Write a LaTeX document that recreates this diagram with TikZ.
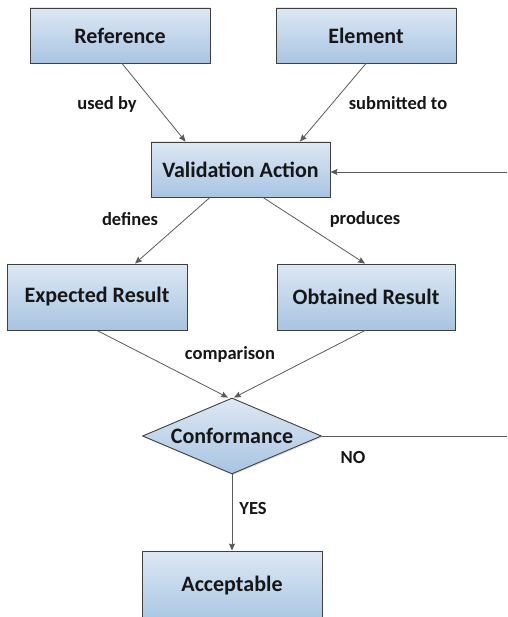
\documentclass[tikz,border=0pt]{standalone}
\usepackage{fontspec}
\setmainfont{Carlito}
\usetikzlibrary{arrows.meta,shapes.geometric,shadows}

\definecolor{boxtop}{HTML}{DDE8F4}
\definecolor{boxbottom}{HTML}{A8C4E2}
\definecolor{boxline}{HTML}{404040}
\definecolor{wire}{HTML}{5A5A5A}
\definecolor{txt}{HTML}{161616}

\tikzset{
  stepbox/.style={rectangle, draw=boxline, line width=0.9pt,
    top color=boxtop, bottom color=boxbottom,
    drop shadow={shadow xshift=1.2pt, shadow yshift=-1.2pt, opacity=0.25},
    minimum width=180pt, minimum height=55pt, inner sep=0pt,
    font=\fontsize{22}{26}\selectfont\bfseries, text=txt},
  decision/.style={diamond, draw=boxline, line width=0.9pt,
    top color=boxtop, bottom color=boxbottom,
    drop shadow={shadow xshift=1.2pt, shadow yshift=-1.2pt, opacity=0.25},
    aspect=2.36, minimum width=179pt, minimum height=76pt, inner sep=0pt,
    font=\fontsize{22}{26}\selectfont\bfseries, text=txt},
  edgelabel/.style={font=\fontsize{18.5}{22}\selectfont\bfseries, text=txt, inner sep=0pt},
  link/.style={draw=wire, line width=0.8pt,
    -{Stealth[length=7pt,width=6pt,inset=1pt]}},
  plainlink/.style={draw=wire, line width=0.8pt}
}

\begin{document}
\begin{tikzpicture}[x=1pt, y=-1pt]
  \useasboundingbox (0,0) rectangle (507,617);
  \clip (0,0) rectangle (507,617);

  % boxes
  \node[stepbox] (ref)  at (120,35.5)  {Reference};
  \node[stepbox] (elem) at (366,35.5)  {Element};
  \node[stepbox, minimum width=179pt] (va) at (240.5,169.5) {Validation Action};
  \node[stepbox, minimum height=66pt] (exp) at (97,297)  {Expected Result};
  \node[stepbox, minimum width=178pt, minimum height=66pt] (obt) at (366,297) {Obtained Result};
  \node[decision] (conf) at (232,436) {Conformance};
  \node[stepbox, minimum height=72pt] (acc) at (232,587) {\raisebox{7pt}{Acceptable}};

  % free ends on the right edge
  \coordinate (retry) at (507,172);
  \coordinate (noend) at (507,436);

  % connectors
  \draw[link] ([xshift=2pt]ref.south) -- ([xshift=-55pt]va.north);
  \draw[link] (elem.south) -- ([xshift=59.5pt]va.north);
  \draw[link] ([xshift=-30.5pt]va.south) -- ([xshift=38pt]exp.north);
  \draw[link] ([xshift=22.5pt]va.south) -- ([xshift=-1pt]obt.north);
  \draw[link] (exp.south) -- ([xshift=-4pt]conf.north);
  \draw[link] ([xshift=-1pt]obt.south) -- ([xshift=2pt]conf.north);
  \draw[link] (conf.south) -- (conf.south |- acc.north);
  \draw[link] (retry) -- (va.east |- retry);
  \draw[plainlink] (conf.east) -- (noend);

  % connector labels
  \node[edgelabel] (lused) at (107,104) {used by};
  \node[edgelabel] (lsub)  at (398,103) {submitted to};
  \node[edgelabel] (ldef)  at (130,219) {defines};
  \node[edgelabel] (lprod) at (365,219) {produces};
  \node[edgelabel] (lcmp)  at (230,354) {comparison};
  \node[edgelabel] (lno)   at (353,457) {NO};
  \node[edgelabel] (lyes)  at (253,508) {YES};
\end{tikzpicture}
\end{document}
